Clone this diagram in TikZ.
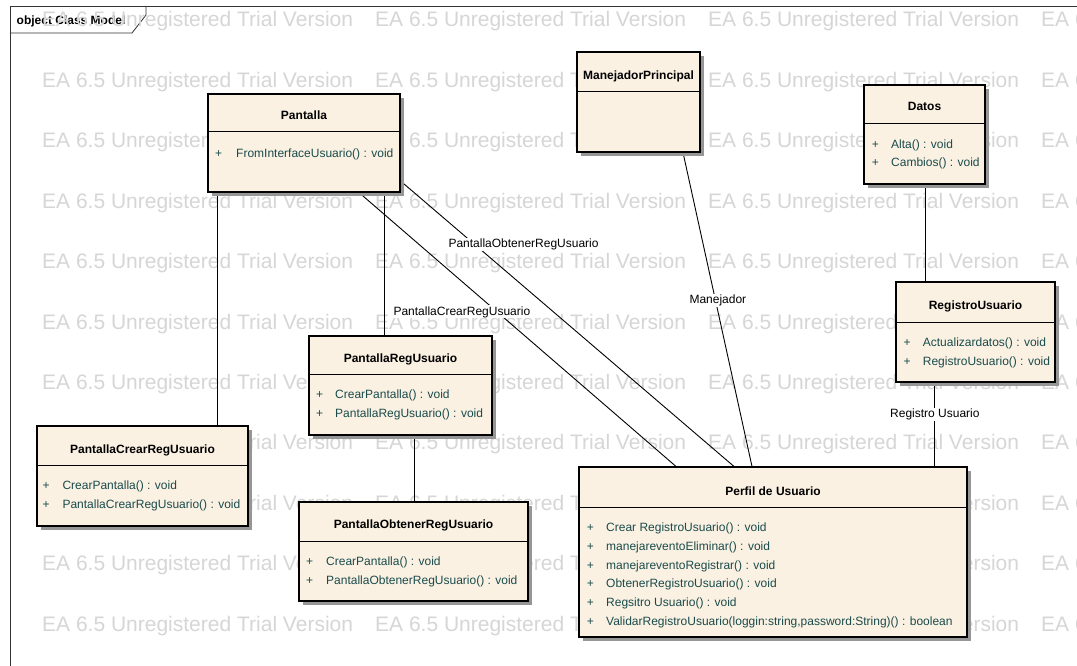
\documentclass[tikz,border=0pt]{standalone}
\usepackage{fontspec}
\setmainfont{Liberation Sans}
\usetikzlibrary{shadows}
\definecolor{classfill}{RGB}{251,241,227}
\definecolor{opcolor}{RGB}{25,75,75}
\definecolor{wmcolor}{RGB}{214,214,214}
\definecolor{shadowgray}{RGB}{150,150,150}
\pgfdeclarelayer{framelayer}
\pgfdeclarelayer{marklayer}
\pgfdeclarelayer{linklayer}
\pgfsetlayers{framelayer,marklayer,linklayer,main}
\begin{document}
\begin{tikzpicture}[x=1pt,y=-1pt,
  classbox/.style={draw=black, line width=1.1pt, fill=classfill, rectangle, inner sep=0pt,
    drop shadow={shadow xshift=4pt, shadow yshift=-4pt, fill=shadowgray, opacity=1}},
  divider/.style={draw=black, line width=1pt},
  classtitle/.style={font=\bfseries\fontsize{12}{14}\selectfont, anchor=base, inner sep=0pt},
  opsign/.style={font=\fontsize{12}{14}\selectfont, text=opcolor, anchor=base west, inner sep=0pt},
  optext/.style={font=\fontsize{12}{14}\selectfont, text=opcolor, anchor=base west, inner sep=0pt},
  conn/.style={draw=black, line width=0.9pt},
  connlabel/.style={font=\fontsize{12}{14}\selectfont, anchor=base west, fill=white, inner sep=1pt},
  wmtext/.style={font=\fontsize{21}{24}\selectfont, text=wmcolor, anchor=base west, inner sep=0pt},
  framestyle/.style={draw=black!80, line width=0.8pt}
]
\useasboundingbox (0,0) rectangle (1077,666);
\clip (0,0) rectangle (1077,666);

% ---------- diagram frame and its name tab ----------
\begin{pgfonlayer}{framelayer}
  \fill[white] (0,0) rectangle (1077,666);
  \draw[framestyle] (10,700) -- (10,6) -- (1100,6);
  \draw[framestyle] (10,33) -- (132,33) -- (146,15) -- (146,6);
  \node[font=\bfseries\fontsize{12}{14}\selectfont, anchor=base west, inner sep=0pt] (tab) at (16.5,25) {object Class Model};
\end{pgfonlayer}

% ---------- repeated background mark ----------
\begin{pgfonlayer}{marklayer}
  \foreach \r in {0,...,10}{
    \foreach \c in {0,...,3}{
      \node[wmtext] (wm-\r-\c) at (42+333*\c, 27+60.4*\r) {EA 6.5 Unregistered Trial Version};
    }
  }
\end{pgfonlayer}

% ---------- classes ----------
% Pantalla
\node[classbox, minimum width=192pt, minimum height=98pt] (pa) at (304,143) {};
\draw[divider] (pa.west |- 0,132) -- (pa.east |- 0,132);
\node[classtitle] (pa-t) at (pa.center |- 0,120) {Pantalla};
\node[opsign] (pa-s1) at (215,157.5) {+};
\node[optext] (pa-o1) at (236,157.5) {FromInterfaceUsuario() : void};

% ManejadorPrincipal
\node[classbox, minimum width=123pt, minimum height=100pt] (mp) at (638.5,102) {};
\draw[divider] (mp.west |- 0,92) -- (mp.east |- 0,92);
\node[classtitle] (mp-t) at (mp.center |- 0,79.3) {ManejadorPrincipal};

% Datos
\node[classbox, minimum width=121pt, minimum height=99pt] (da) at (924.5,134.5) {};
\draw[divider] (da.west |- 0,123.3) -- (da.east |- 0,123.3);
\node[classtitle] (da-t) at (da.center |- 0,111) {Datos};
\node[opsign] (da-s1) at (871.7,148.3) {+};
\node[optext] (da-o1) at (891,148.3) {Alta() : void};
\node[opsign] (da-s2) at (871.7,166.7) {+};
\node[optext] (da-o2) at (891,166.7) {Cambios() : void};

% RegistroUsuario
\node[classbox, minimum width=159pt, minimum height=100pt] (ru) at (975.5,332) {};
\draw[divider] (ru.west |- 0,322) -- (ru.east |- 0,322);
\node[classtitle] (ru-t) at (ru.center |- 0,309) {RegistroUsuario};
\node[opsign] (ru-s1) at (903.3,346) {+};
\node[optext] (ru-o1) at (922.7,346) {Actualizardatos() : void};
\node[opsign] (ru-s2) at (903.3,365) {+};
\node[optext] (ru-o2) at (922.7,365) {RegistroUsuario() : void};

% PantallaRegUsuario
\node[classbox, minimum width=183pt, minimum height=99pt] (pr) at (400.5,385.5) {};
\draw[divider] (pr.west |- 0,374.3) -- (pr.east |- 0,374.3);
\node[classtitle] (pr-t) at (pr.center |- 0,362.3) {PantallaRegUsuario};
\node[opsign] (pr-s1) at (316,398.3) {+};
\node[optext] (pr-o1) at (335,398.3) {CrearPantalla() : void};
\node[opsign] (pr-s2) at (316,417.3) {+};
\node[optext] (pr-o2) at (335,417.3) {PantallaRegUsuario() : void};

% PantallaCrearRegUsuario
\node[classbox, minimum width=211pt, minimum height=100pt] (pc) at (142.5,476) {};
\draw[divider] (pc.west |- 0,465) -- (pc.east |- 0,465);
\node[classtitle] (pc-t) at (pc.center |- 0,453.3) {PantallaCrearRegUsuario};
\node[opsign] (pc-s1) at (42.3,489.3) {+};
\node[optext] (pc-o1) at (62.3,489.3) {CrearPantalla() : void};
\node[opsign] (pc-s2) at (42.3,508.3) {+};
\node[optext] (pc-o2) at (62.3,508.3) {PantallaCrearRegUsuario() : void};

% PantallaObtenerRegUsuario
\node[classbox, minimum width=229pt, minimum height=99pt] (po) at (413.5,551.5) {};
\draw[divider] (po.west |- 0,541) -- (po.east |- 0,541);
\node[classtitle] (po-t) at (po.center |- 0,528.3) {PantallaObtenerRegUsuario};
\node[opsign] (po-s1) at (306,565) {+};
\node[optext] (po-o1) at (326,565) {CrearPantalla() : void};
\node[opsign] (po-s2) at (306,584) {+};
\node[optext] (po-o2) at (326,584) {PantallaObtenerRegUsuario() : void};

% Perfil de Usuario
\node[classbox, minimum width=388pt, minimum height=170pt] (pu) at (773,552) {};
\draw[divider] (pu.west |- 0,507) -- (pu.east |- 0,507);
\node[classtitle] (pu-t) at (pu.center |- 0,495) {Perfil de Usuario};
\node[opsign] (pu-s1) at (586.7,531.7) {+};
\node[optext] (pu-o1) at (606,531.7) {Crear RegistroUsuario() : void};
\node[opsign] (pu-s2) at (586.7,550.4) {+};
\node[optext] (pu-o2) at (606,550.4) {manejareventoEliminar() : void};
\node[opsign] (pu-s3) at (586.7,569.1) {+};
\node[optext] (pu-o3) at (606,569.1) {manejareventoRegistrar() : void};
\node[opsign] (pu-s4) at (586.7,587.8) {+};
\node[optext] (pu-o4) at (606,587.8) {ObtenerRegistroUsuario() : void};
\node[opsign] (pu-s5) at (586.7,606.5) {+};
\node[optext] (pu-o5) at (606,606.5) {Regsitro Usuario() : void};
\node[opsign] (pu-s6) at (586.7,625.2) {+};
\node[optext] (pu-o6) at (606,625.2) {ValidarRegistroUsuario(loggin:string,password:String)() : boolean};

% ---------- associations ----------
\begin{pgfonlayer}{linklayer}
  \draw[conn] (pa.south -| 217,0) -- (pc.north -| 217,0);
  \draw[conn] (pa.south -| 384.5,0) -- (pr.north -| 384.5,0);
  \draw[conn] (pa.south -| 359,0) -- (pu.north -| 676,0);
  \draw[conn] (pa.east |- 0,181) -- (pu.north -| 734,0);
  \draw[conn] (mp.south -| 683,0) -- (pu.north -| 752,0);
  \draw[conn] (da.south -| 925,0) -- (ru.north -| 925,0);
  \draw[conn] (ru.south -| 934,0) -- (pu.north -| 934,0);
  \draw[conn] (pr.south -| 414,0) -- (po.north -| 414,0);
  \node[connlabel] (l-obt) at (447.3,247.7) {PantallaObtenerRegUsuario};
  \node[connlabel] (l-cre) at (392.3,315) {PantallaCrearRegUsuario};
  \node[connlabel] (l-man) at (688.3,303.3) {Manejador};
  \node[connlabel] (l-reg) at (889,417.7) {Registro Usuario};
\end{pgfonlayer}
\end{tikzpicture}
\end{document}
